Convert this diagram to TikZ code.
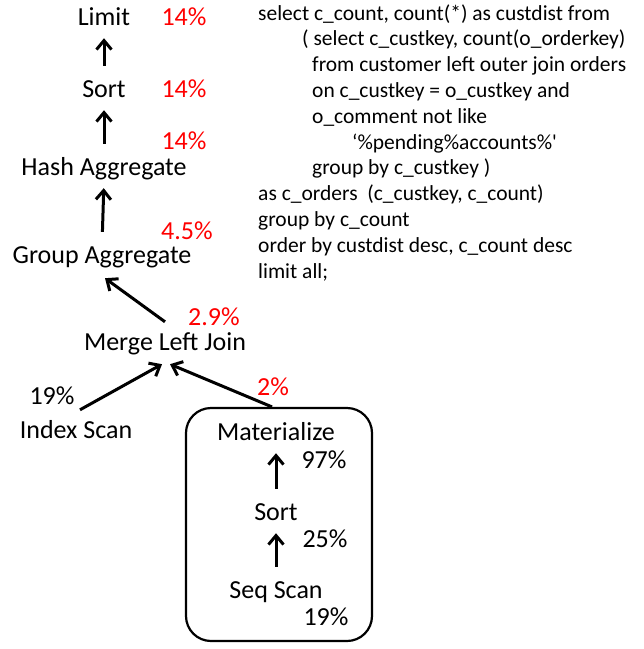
\documentclass[tikz,border=0pt]{standalone}
\usepackage{fontspec}
\setmainfont{Carlito}
\usetikzlibrary{arrows.meta}
\tikzset{op/.style={inner sep=0pt,text height=17pt,text depth=5pt,font=\fontsize{26}{30}\selectfont},
  pct/.style={op},
  redpct/.style={op,text=red},
  sql/.style={anchor=base west,inner sep=0pt,font=\fontsize{21.5}{26}\selectfont},
  grpbox/.style={draw,line width=2.2pt,rounded corners=25pt},
  arr/.style={-{Straight Barb[length=9pt,width=15pt]},line width=3pt},
  vert/.style={arr,shorten <=14pt,shorten >=8pt}}

\begin{document}
\begin{tikzpicture}[x=1pt,y=-1pt]
\useasboundingbox (0,0) rectangle (644,649);
% plan operators
\node[op] (limit) at (104,19){Limit};
\node[op] (sortA) at (104,91){Sort};
\node[op] (hash) at (104,169){Hash Aggregate};
\node[op] (grp) at (102,257){Group Aggregate};
\node[op] (mlj) at (165,344){Merge Left Join};
\node[op] (idx) at (76,432){Index Scan};
\node[grpbox,minimum width=186pt,minimum height=233pt] (matbox) at (279,524.5){};
\node[op] (mat) at (276,434){Materialize};
\node[op] (sortB) at (276,514){Sort};
\node[op] (seq) at (276,592){Seq Scan};
% costs
\node[redpct] (pLimit) at (184,19){14\%};
\node[redpct] (pSortA) at (184,91){14\%};
\node[redpct] (pHash) at (184,143){14\%};
\node[redpct] (pGrp) at (187,233){4.5\%};
\node[redpct] (pMlj) at (214,319){2.9\%};
\node[pct] (pIdx) at (52,398){19\%};
\node[redpct] (pMat) at (273,389){2\%};
\node[pct] (pMatIn) at (324,462){97\%};
\node[pct] (pSortB) at (325,541){25\%};
\node[pct] (pSeq) at (326,619){19\%};
% edges
\draw[vert] (sortA.north)--(limit.south); \draw[vert] (hash.north)--(sortA.south);
\draw[vert] (grp.north)--(hash.south);
\draw[arr] ([yshift=11pt]mlj.north)--([xshift=3pt,yshift=-10pt]grp.south);
\draw[arr] ([xshift=4pt,yshift=11pt]idx.north)--([xshift=-3pt,yshift=-9pt]mlj.south);
\draw[arr] ([xshift=-7pt]matbox.north)--([xshift=5pt,yshift=-9pt]mlj.south);
\draw[vert] (sortB.north)--(mat.south); \draw[vert] (seq.north)--(sortB.south);
% query text
\node[sql] (q1) at (258,20){select c\_count, count(*) as custdist from};
\node[sql] (q2) at (302,45.8){( select c\_custkey, count(o\_orderkey)};
\node[sql] (q3) at (312,71.6){from customer left outer join orders};
\node[sql] (q4) at (312,97.4){on c\_custkey = o\_custkey and};
\node[sql] (q5) at (312,123.2){o\_comment not like};
\node[sql] (q6) at (352,149){‘\%pending\%accounts\%\textquotesingle};
\node[sql] (q7) at (312,174.8){group by c\_custkey )};
\node[sql] (q8) at (258,200.6){as c\_orders\ \ (c\_custkey, c\_count)};
\node[sql] (q9) at (258,226.4){group by c\_count};
\node[sql] (q10) at (258,252.2){order by custdist desc, c\_count desc};
\node[sql] (q11) at (258,278){limit all;};
\end{tikzpicture}
\end{document}
